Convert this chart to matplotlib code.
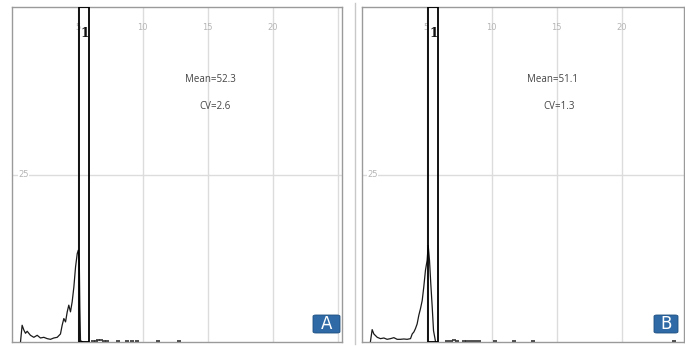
import matplotlib
matplotlib.use("Agg")
import matplotlib.pyplot as plt
from matplotlib.patches import FancyBboxPatch

W, H = 685, 346

# ---- data ----
x_ticks = [5, 10, 15, 20, 25]
x_tick_labels = ["5", "10", "15", "20", ""]
y_tick = 25
y_tick_label = "25"
gate = (5.15, 5.92)

# Panel A histogram (channel, count)
xa = [0.62, 0.74, 0.87, 1.0, 1.13, 1.38, 1.64, 1.90, 2.15, 2.41, 2.67, 2.92, 3.18, 3.44,
      3.69, 3.82, 3.95, 4.08, 4.21, 4.33, 4.46, 4.59, 4.72, 4.85, 4.98, 5.06, 5.14, 5.18, 5.23, 5.4]
ya = [0.1, 2.5, 1.8, 1.3, 1.6, 1.0, 0.7, 1.0, 0.6, 0.7, 0.5, 0.4, 0.6, 0.7,
      1.2, 2.5, 3.5, 3.0, 4.5, 5.5, 4.5, 6.0, 8.2, 11.2, 13.2, 13.7, 11.7, 5.2, 0.2, 0.0]
dots_a_x = [6.2, 6.4, 6.6, 6.8, 7.0, 7.3, 8.1, 8.8, 9.2, 9.6, 11.2, 12.8]
dots_a_y = [0.2, 0.2, 0.3, 0.3, 0.2, 0.2, 0.2, 0.2, 0.2, 0.2, 0.2, 0.2]

# Panel B histogram
xb = [0.69, 0.82, 0.95, 1.21, 1.46, 1.72, 1.97, 2.23, 2.49, 2.74, 3.0, 3.26, 3.51, 3.77,
      3.90, 4.03, 4.15, 4.28, 4.41, 4.54, 4.67, 4.79, 4.92, 5.05, 5.13, 5.23, 5.33, 5.44, 5.54, 5.7]
yb = [0.1, 1.85, 1.2, 0.7, 0.5, 0.6, 0.4, 0.5, 0.65, 0.4, 0.4, 0.45, 0.4, 0.5,
      1.2, 1.5, 2.0, 2.7, 4.0, 5.0, 6.2, 8.2, 10.7, 12.2, 14.4, 12.2, 8.7, 5.2, 1.7, 0.0]
dots_b_x = [6.6, 6.85, 7.1, 7.35, 7.9, 8.1, 8.45, 8.7, 9.0, 10.3, 11.75, 13.2, 24.0]
dots_b_y = [0.2, 0.2, 0.3, 0.2, 0.2, 0.2, 0.2, 0.2, 0.2, 0.2, 0.2, 0.2, 0.2]

panels = [
    dict(name="A", mean="Mean=52.3", cv="CV=2.6", x=xa, y=ya, dx=dots_a_x, dy=dots_a_y,
         left=12.5, right=342.0, mean_pos=(15.2, 79), cv_pos=(15.6, 107),
         badge=(313, 315, 340, 333)),
    dict(name="B", mean="Mean=51.1", cv="CV=1.3", x=xb, y=yb, dx=dots_b_x, dy=dots_b_y,
         left=361.5, right=684.0, mean_pos=(14.7, 80), cv_pos=(15.2, 107),
         badge=(654, 315, 678, 333)),
]

fig = plt.figure(figsize=(W / 100, H / 100), dpi=100)
fig.patch.set_facecolor("white")

top_px, bot_px = 7.0, 342.0
px_per_unit = 13.0
ymax = 50.0

for p in panels:
    ax = fig.add_axes([p["left"] / W, (H - bot_px) / H,
                       (p["right"] - p["left"]) / W, (bot_px - top_px) / H])
    ax.set_xlim(0, (p["right"] - p["left"]) / px_per_unit)
    ax.set_ylim(0, ymax)
    ax.set_xticks([])
    ax.set_yticks([])
    for s in ax.spines.values():
        s.set_color("#9a9a9a")
        s.set_linewidth(1.0)
    for xt, lab in zip(x_ticks, x_tick_labels):
        ax.axvline(xt, color="#dcdcdc", lw=1.0, zorder=0)
        if lab:
            ax.text(xt, ymax - 3.0, lab, ha="center", va="center", fontsize=6,
                    color="#b5b5b5", family="Liberation Sans Narrow")
    ax.axhline(y_tick, color="#dcdcdc", lw=1.0, zorder=0)
    ax.text(0.45, y_tick, y_tick_label, ha="left", va="center", fontsize=6,
            color="#b5b5b5", family="Liberation Sans Narrow",
            bbox=dict(facecolor="white", edgecolor="none", pad=0.2))

    ax.plot(p["x"], p["y"], color="#1a1a1a", lw=0.9, zorder=3)
    ax.plot(p["dx"], p["dy"], linestyle="none", marker="_", ms=2.5, mew=1.2,
            color="#333333", zorder=3)

    ax.axvspan(gate[0], gate[1], fill=False, edgecolor="black", lw=1.3, zorder=4)
    ax.text(gate[1] - 0.02, ymax - 3.9, "1", ha="right", va="center", fontsize=9,
            fontweight="bold", color="#111111", family="DejaVu Serif", zorder=5)

    def ydata(py):
        return (bot_px - py) / (bot_px - top_px) * ymax
    ax.text(p["mean_pos"][0], ydata(p["mean_pos"][1]), p["mean"], ha="center", va="center",
            fontsize=7, color="#444444", family="Open Sans")
    ax.text(p["cv_pos"][0], ydata(p["cv_pos"][1]), p["cv"], ha="center", va="center",
            fontsize=7, color="#444444", family="Open Sans")

    # Badge
    bx0, by0, bx1, by1 = p["badge"]
    badge = FancyBboxPatch((bx0 / W, 1 - by1 / H), (bx1 - bx0) / W, (by1 - by0) / H,
                           boxstyle="round,pad=0,rounding_size=0.004",
                           transform=fig.transFigure, facecolor="#2f6aa6",
                           edgecolor="#1f4f80", lw=0.6, zorder=10)
    fig.patches.append(badge)
    fig.text((bx0 + bx1) / 2 / W, 1 - (by0 + by1) / 2 / H, p["name"], ha="center",
             va="center", fontsize=12, color="white", family="DejaVu Sans", zorder=11)

# separator line left of panel B
fig.add_artist(plt.Line2D([355 / W, 355 / W], [(H - 344) / H, (H - 3) / H],
                          transform=fig.transFigure, color="#c8c8c8", lw=1.0))

fig.savefig("out.png", dpi=100, facecolor="white")
